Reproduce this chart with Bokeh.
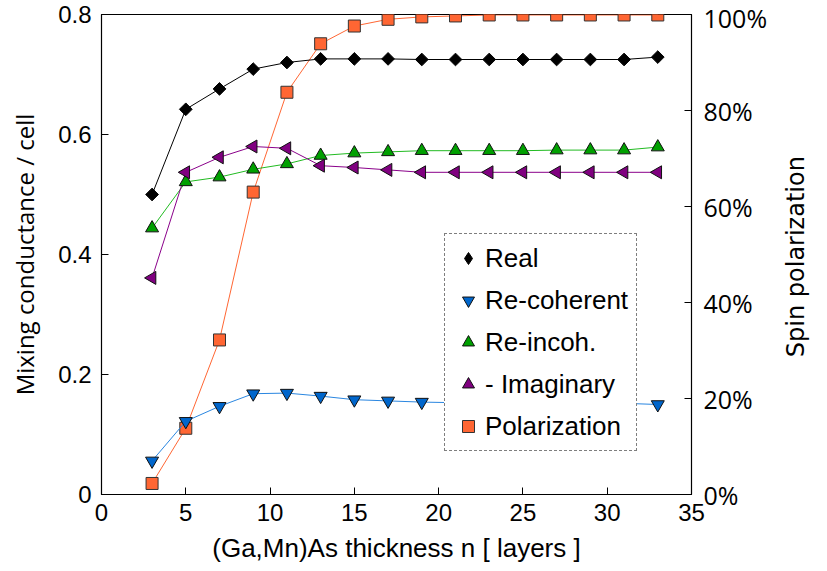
import math
from bokeh.plotting import figure
from bokeh.models import (Range1d, LinearAxis, FixedTicker, Legend, LegendItem,
                          CustomJSTickFormatter)
from bokeh.embed import file_html
from bokeh.resources import INLINE

# ---- data ----
n_layers = [3, 5, 7, 9, 11, 13, 15, 17, 19, 21, 23, 25, 27, 29, 31, 33]
real = [0.500, 0.642, 0.676, 0.709, 0.720, 0.726, 0.726, 0.726, 0.725, 0.725,
        0.725, 0.725, 0.725, 0.725, 0.725, 0.729]
re_coherent = [0.056, 0.122, 0.147, 0.168, 0.169, 0.164, 0.158, 0.156, 0.154, 0.153,
               0.153, 0.152, 0.152, 0.152, 0.152, 0.150]
re_incoh = [0.444, 0.521, 0.529, 0.542, 0.551, 0.565, 0.569, 0.571, 0.573, 0.573,
            0.573, 0.573, 0.574, 0.574, 0.574, 0.579]
imaginary = [0.361, 0.537, 0.562, 0.580, 0.577, 0.548, 0.545, 0.541, 0.537, 0.537,
             0.537, 0.537, 0.537, 0.537, 0.537, 0.537]
polarization_pct = [2.3, 13.8, 32.2, 63.0, 83.8, 93.9, 97.6, 99.0, 99.5, 99.7,
                    99.9, 99.9, 99.9, 99.9, 99.9, 99.9]

x_ticks = [0, 5, 10, 15, 20, 25, 30, 35]
y_ticks = [0, 0.2, 0.4, 0.6, 0.8]
pct_ticks = [0, 20, 40, 60, 80, 100]

x_title = "(Ga,Mn)As thickness n [ layers ]"
y_title = "Mixing conductance / cell"
y2_title = "Spin polarization"

TICK_FONT = "Liberation Sans"
TITLE_FONT = "Open Sans"

p = figure(width=827, height=571, output_backend="svg", toolbar_location=None,
           x_range=Range1d(0, 35), y_range=Range1d(0, 0.8),
           min_border_left=101, min_border_right=136, min_border_top=14,
           min_border_bottom=77)
p.extra_y_ranges = {"pct": Range1d(0, 100)}
p.grid.visible = False
p.outline_line_color = "black"
p.outline_line_width = 1.2
p.background_fill_color = "white"
p.border_fill_color = "white"

def style_axis(ax):
    ax.major_tick_in = 7
    ax.major_tick_out = 0
    ax.minor_tick_line_color = None
    ax.axis_line_color = "black"
    ax.major_tick_line_color = "black"
    ax.major_label_text_color = "black"
    ax.axis_label_text_color = "black"
    ax.axis_label_text_font_style = "normal"

xa = p.xaxis[0]
style_axis(xa)
xa.ticker = FixedTicker(ticks=x_ticks)
xa.major_label_text_font = TICK_FONT
xa.major_label_text_font_size = "24px"
xa.major_label_standoff = 9
xa.axis_label = x_title
xa.axis_label_text_font = TICK_FONT
xa.axis_label_text_font_size = "26px"
xa.axis_label_standoff = 9

ya = p.yaxis[0]
style_axis(ya)
ya.ticker = FixedTicker(ticks=y_ticks)
ya.major_label_overrides = {0: "0", 0.2: "0.2", 0.4: "0.4", 0.6: "0.6", 0.8: "0.8"}
ya.major_label_text_font = TICK_FONT
ya.major_label_text_font_size = "24px"
ya.major_label_standoff = 10
ya.axis_label = y_title
ya.axis_label_text_font = TITLE_FONT
ya.axis_label_text_font_size = "24px"
ya.axis_label_standoff = 14

ra = LinearAxis(y_range_name="pct", ticker=FixedTicker(ticks=pct_ticks))
style_axis(ra)
ra.formatter = CustomJSTickFormatter(code="return tick.toFixed(0) + '%';")
ra.major_label_text_font = TITLE_FONT
ra.major_label_text_font_size = "25px"
ra.major_label_standoff = 12
# rotated to read upwards; anchored at the axis start and pushed up by leading no-break spaces
ra.axis_label = "\u00a0" * 18 + y2_title
ra.axis_label_orientation = math.pi / 2
if "axis_label_align" in ra.properties():
    ra.axis_label_align = "start"
ra.axis_label_text_font = "DejaVu Sans"
ra.axis_label_text_font_size = "24px"
ra.axis_label_standoff = 26
p.add_layout(ra, "right")

# lines and markers
p.line(n_layers, polarization_pct, y_range_name="pct", line_color="#ff6633", line_width=1)
r_pol = p.scatter(n_layers, polarization_pct, y_range_name="pct", marker="square",
                  size=12, fill_color="#ff6633", line_color="#333333")

p.line(n_layers, real, line_color="black", line_width=1)
p.line(n_layers, re_coherent, line_color="#2a86e0", line_width=1)
p.line(n_layers, re_incoh, line_color="#22bb22", line_width=1)
p.line(n_layers, imaginary, line_color="#8a008a", line_width=1)

p.scatter(n_layers, real, marker="square", angle=math.pi / 4, size=9,
          fill_color="black", line_color="black")
r_coh = p.scatter(n_layers, re_coherent, marker="inverted_triangle", size=13,
                  fill_color="#0066cc", line_color="#111111")
r_inc = p.scatter(n_layers, re_incoh, marker="triangle", size=13,
                  fill_color="#00a000", line_color="#111111")
r_img = p.scatter(n_layers, imaginary, marker="triangle", angle=math.pi / 2, size=13,
                  fill_color="#800080", line_color="#111111")
# legend-only diamond (legend glyphs are drawn unrotated); its point lies off-range
r_real_leg = p.scatter([float("nan")], [float("nan")], marker="diamond",
                       fill_color="black", line_color="black")

legend = Legend(items=[
    LegendItem(label="Real", renderers=[r_real_leg]),
    LegendItem(label="Re-coherent", renderers=[r_coh]),
    LegendItem(label="Re-incoh.", renderers=[r_inc]),
    LegendItem(label="- Imaginary", renderers=[r_img]),
    LegendItem(label="Polarization", renderers=[r_pol]),
], location=(343, 43))
legend.border_line_color = "black"
legend.border_line_dash = "2 2"
legend.border_line_width = 1
legend.background_fill_color = "white"
legend.background_fill_alpha = 1
legend.label_text_font = TICK_FONT
legend.label_text_font_size = "26px"
legend.label_text_color = "black"
legend.glyph_width = 30
legend.glyph_height = 32
legend.label_height = 32
legend.spacing = 10
legend.padding = 8
legend.margin = 0
legend.label_standoff = 2
p.add_layout(legend, "center")

open("out.html", "w").write(file_html(p, INLINE))
